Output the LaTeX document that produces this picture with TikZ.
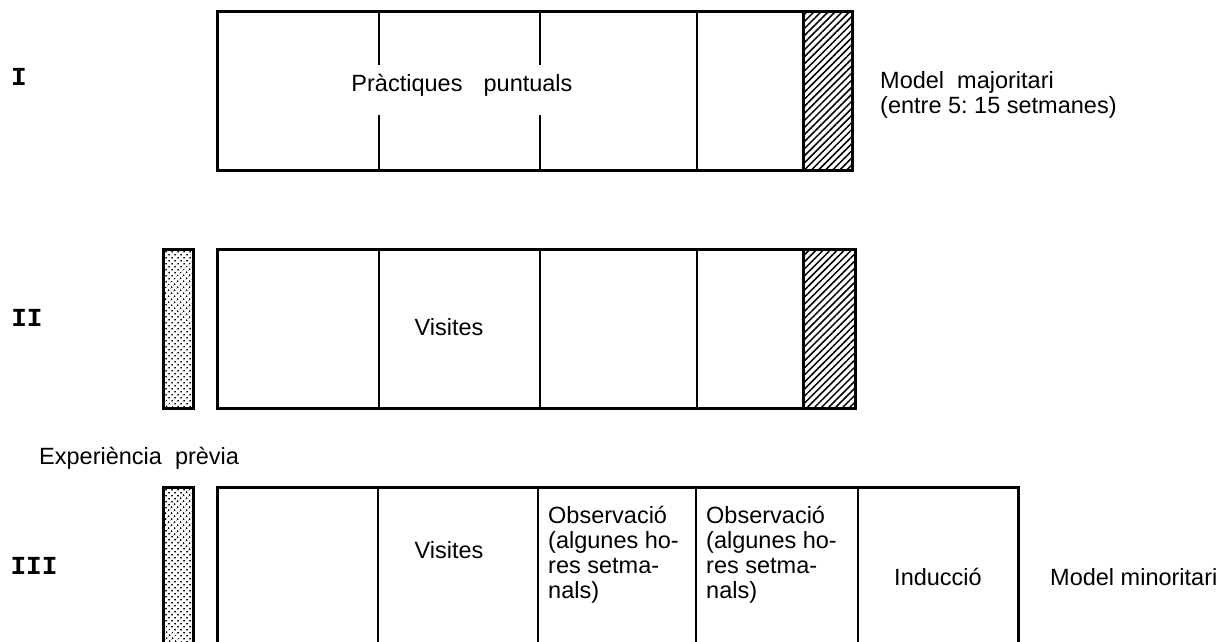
\documentclass[tikz,border=0pt]{standalone}
\usepackage{fontspec}
\setmainfont{Liberation Sans}
\newfontfamily\typew{Liberation Mono}
\usetikzlibrary{patterns,patterns.meta}
\begin{document}
\begin{tikzpicture}[x=1pt,y=-1pt,
  frame/.style={line width=3pt},
  divider/.style={line width=2.4pt},
  hatchbox/.style={line width=3pt,pattern={Lines[angle=45,distance=5pt,line width=1.5pt]}},
  stipplebox/.style={line width=3pt,pattern={Dots[distance=4pt,radius=1.05pt,angle=45]}},
  lbl/.style={font=\fontsize{23.5}{25}\selectfont,inner sep=0pt},
  roman/.style={font=\typew\bfseries\fontsize{26}{28}\selectfont,inner sep=0pt}]
\useasboundingbox (0,0) rectangle (1229,642);
\clip (0,0) rectangle (1229,642);
% Box I
\draw[hatchbox] (803,12) rectangle (852,170);
\draw[frame] (217,12) rectangle (852,170);
\foreach \x in {379,540}{
  \draw[divider] (\x,12) -- (\x,65);
  \draw[divider] (\x,115) -- (\x,170);}
\draw[divider] (697,12) -- (697,170);
\node[lbl] (pp) at (462,85) {Pràctiques\hspace{0.9em}puntuals};
\node[lbl,anchor=west,align=left] (mmaj) at (880,95) {Model\ \ majoritari\\(entre 5:\ 15 setmanes)};
\node[roman] (r1) at (19,77) {I};
% Box II
\draw[stipplebox] (163,249) rectangle (193,408);
\draw[hatchbox] (803,249) rectangle (855,408);
\draw[frame] (217,249) rectangle (855,408);
\foreach \x in {379,540,697}{\draw[divider] (\x,249) -- (\x,408);}
\node[lbl] (v2) at (449,327) {Visites};
\node[roman] (r2) at (27,318) {II};
\node[lbl,anchor=west] (exp) at (39,458) {Experiència\ \ prèvia};
% Box III
\draw[stipplebox] (163,487) rectangle (193,660);
\draw[frame] (217,660) -- (217,487) -- (1018,487) -- (1018,660);
\foreach \x in {378,538,696,858}{\draw[divider] (\x,487) -- (\x,660);}
\node[lbl] (v3) at (449,550) {Visites};
\node[lbl,anchor=west,align=left] (o1) at (548,555) {Observació\\(algunes ho-\\res setma-\\nals)};
\node[lbl,anchor=west,align=left] (o2) at (706,555) {Observació\\(algunes ho-\\res setma-\\nals)};
\node[lbl] (ind) at (938,577) {Inducció};
\node[lbl,anchor=west] (mmin) at (1050,577) {Model minoritari};
\node[roman] (r3) at (34,566) {III};
\end{tikzpicture}
\end{document}
